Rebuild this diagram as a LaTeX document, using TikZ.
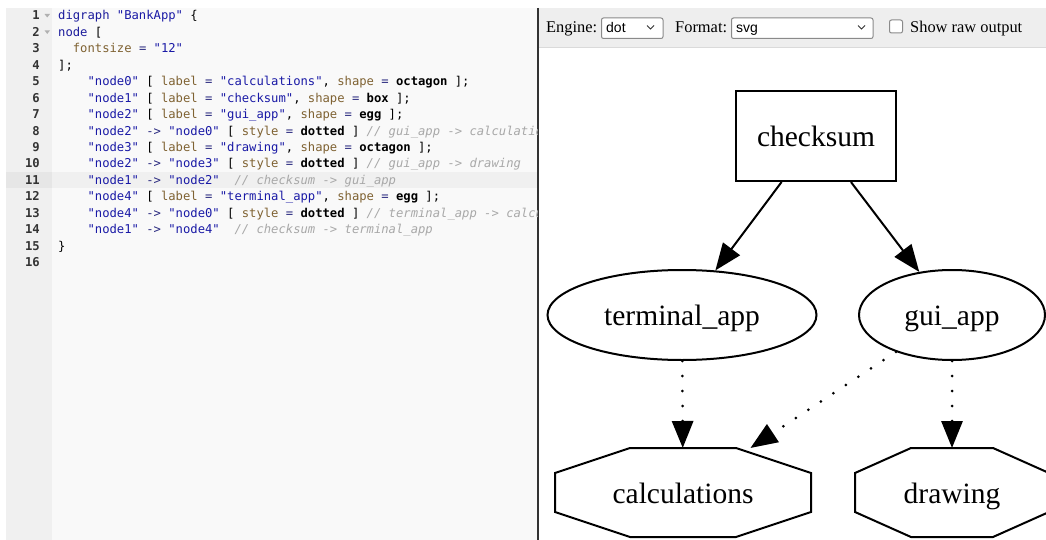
\documentclass[tikz,border=0pt]{standalone}
\usepackage{fontspec}
\setmainfont{Liberation Serif}
\newfontfamily\codefont{DejaVu Sans Mono}
\newfontfamily\uifont{Liberation Sans}
\usetikzlibrary{arrows.meta,shapes.geometric}

\definecolor{gutterbg}{HTML}{F0F0F0}
\definecolor{codebg}{HTML}{F9F9F9}
\definecolor{gutterhl}{HTML}{E6E6E6}
\definecolor{codehl}{HTML}{F0F0F0}
\definecolor{numtext}{HTML}{333333}
\definecolor{foldgray}{HTML}{B0B0B0}
\definecolor{codekw}{HTML}{1C1C9C}
\definecolor{codestr}{HTML}{1A1AA6}
\definecolor{codeattr}{HTML}{7F6232}
\definecolor{codeop}{HTML}{2A2A80}
\definecolor{codecom}{HTML}{A8A8A8}
\definecolor{toolbg}{HTML}{EEEEEE}
\definecolor{toolline}{HTML}{DADADA}
\definecolor{boxgray}{HTML}{8A8A8A}
\definecolor{splitter}{HTML}{333333}

\newcommand{\ckw}[1]{\textcolor{codekw}{#1}}
\newcommand{\cstr}[1]{\textcolor{codestr}{#1}}
\newcommand{\cattr}[1]{\textcolor{codeattr}{#1}}
\newcommand{\cop}[1]{\textcolor{codeop}{#1}}
\newcommand{\cval}[1]{\textbf{#1}}
\newcommand{\ccom}[1]{\textcolor{codecom}{\itshape #1}}
% octagon round a rectangle node: name, x cut, y cut
\newcommand{\gvoctagon}[3]{%
	\draw [style=octline] ([xshift=#2]#1.north west) -- ([xshift=-#2]#1.north east)
		-- ([yshift=-#3]#1.north east) -- ([yshift=#3]#1.south east)
		-- ([xshift=-#2]#1.south east) -- ([xshift=#2]#1.south west)
		-- ([yshift=#3]#1.south west) -- ([yshift=-#3]#1.north west) -- cycle;}

\pgfdeclarelayer{bglayer}
\pgfdeclarelayer{edgelayer}
\pgfdeclarelayer{nodelayer}
\pgfsetlayers{bglayer,edgelayer,nodelayer,main}
\tikzstyle{lineno}=[anchor=base east,inner sep=0pt,text=numtext,font=\codefont\fontsize{12.2}{14}\selectfont\bfseries]
\tikzstyle{codeline}=[anchor=base west,inner sep=0pt,text=black,font=\codefont\fontsize{12.2}{14}\selectfont]
\tikzstyle{uilabel}=[anchor=base west,inner sep=0pt,font=\fontsize{16.4}{18}\selectfont]
\tikzstyle{uivalue}=[anchor=base west,inner sep=0pt,font=\uifont\fontsize{14}{16}\selectfont]
\tikzstyle{selectbox}=[draw=boxgray,fill=white,line width=1pt,rounded corners=2pt]
\tikzstyle{chevron}=[draw=black!80,line width=0.9pt]
\tikzstyle{gvtext}=[text height=21pt,text depth=0pt,font=\fontsize{29.5}{32}\selectfont]
\tikzstyle{gvbox}=[gvtext,rectangle,draw=black,line width=2pt,minimum width=160pt,minimum height=90pt]
\tikzstyle{gvegg}=[gvtext,ellipse,draw=black,line width=2pt,minimum height=90pt]
\tikzstyle{gvoct}=[gvtext,rectangle,outer sep=1pt,minimum height=87pt]
\tikzstyle{octline}=[draw=black,line width=2pt,line join=miter]
\tikzstyle{gvedge}=[-{Triangle[length=27pt,width=21pt]},draw=black,line width=2pt]
\tikzstyle{gvdotted}=[gvedge,line width=3pt,line cap=round,dash pattern=on 0pt off 15pt]

\begin{document}
\begin{tikzpicture}[x=1pt,y=-1pt]
	\useasboundingbox (0,0) rectangle (1046,540);
	\begin{pgfonlayer}{bglayer}
		% editor panel
		\fill [gutterbg] (6,8) rectangle (52,540);
		\fill [codebg] (52,8) rectangle (538,540);
		\fill [gutterhl] (6,172) rectangle (52,188.4);
		\fill [codehl] (52,172) rectangle (538,188.4);
		\draw [splitter,line width=1.5pt] (538,8) -- (538,540);
		\fill [foldgray] (44.5,14) -- (50,14) -- (47.25,17.5) -- cycle;
		\fill [foldgray] (44.5,30.4) -- (50,30.4) -- (47.25,33.9) -- cycle;
		% toolbar
		\fill [toolbg] (539,8) rectangle (1046,47);
		\draw [toolline,line width=1pt] (539,47.5) -- (1046,47.5);
		\draw [style=selectbox] (601.5,18) rectangle (663,38.5);
		\draw [style=chevron] (647,25.5) -- (650.5,29) -- (654,25.5);
		\draw [style=selectbox] (731.5,18) rectangle (873,38.5);
		\draw [style=chevron] (858,25.5) -- (861.5,29) -- (865,25.5);
		\draw [style=selectbox] (889.5,20) rectangle (902.5,33);
	\end{pgfonlayer}
	\begin{pgfonlayer}{nodelayer}
		\node [style=lineno] (n1) at (40, 20.00) {1};
		\node [style=lineno] (n2) at (40, 36.43) {2};
		\node [style=lineno] (n3) at (40, 52.86) {3};
		\node [style=lineno] (n4) at (40, 69.29) {4};
		\node [style=lineno] (n5) at (40, 85.72) {5};
		\node [style=lineno] (n6) at (40, 102.15) {6};
		\node [style=lineno] (n7) at (40, 118.58) {7};
		\node [style=lineno] (n8) at (40, 135.01) {8};
		\node [style=lineno] (n9) at (40, 151.44) {9};
		\node [style=lineno] (n10) at (40, 167.87) {10};
		\node [style=lineno] (n11) at (40, 184.30) {11};
		\node [style=lineno] (n12) at (40, 200.73) {12};
		\node [style=lineno] (n13) at (40, 217.16) {13};
		\node [style=lineno] (n14) at (40, 233.59) {14};
		\node [style=lineno] (n15) at (40, 250.02) {15};
		\node [style=lineno] (n16) at (40, 266.45) {16};
		\begin{scope}
			\clip (52,8) rectangle (537,540);
			\node [style=codeline] (c1) at (58, 20.00) {\ckw{digraph} \cstr{"BankApp"} \{};
			\node [style=codeline] (c2) at (58, 36.43) {\ckw{node} [};
			\node [style=codeline] (c3) at (72.7, 52.86) {\cattr{fontsize} \cop{=} \cstr{"12"}};
			\node [style=codeline] (c4) at (58, 69.29) {];};
			\node [style=codeline] (c5) at (87.4, 85.72) {\cstr{"node0"} [ \cattr{label} \cop{=} \cstr{"calculations"}, \cattr{shape} \cop{=} \cval{octagon} ];};
			\node [style=codeline] (c6) at (87.4, 102.15) {\cstr{"node1"} [ \cattr{label} \cop{=} \cstr{"checksum"}, \cattr{shape} \cop{=} \cval{box} ];};
			\node [style=codeline] (c7) at (87.4, 118.58) {\cstr{"node2"} [ \cattr{label} \cop{=} \cstr{"gui\_app"}, \cattr{shape} \cop{=} \cval{egg} ];};
			\node [style=codeline] (c8) at (87.4, 135.01) {\cstr{"node2"} \cop{->} \cstr{"node0"} [ \cattr{style} \cop{=} \cval{dotted} ] \ccom{// gui\_app -> calculations}};
			\node [style=codeline] (c9) at (87.4, 151.44) {\cstr{"node3"} [ \cattr{label} \cop{=} \cstr{"drawing"}, \cattr{shape} \cop{=} \cval{octagon} ];};
			\node [style=codeline] (c10) at (87.4, 167.87) {\cstr{"node2"} \cop{->} \cstr{"node3"} [ \cattr{style} \cop{=} \cval{dotted} ] \ccom{// gui\_app -> drawing}};
			\node [style=codeline] (c11) at (87.4, 184.30) {\cstr{"node1"} \cop{->} \cstr{"node2"}\ \ \ccom{// checksum -> gui\_app}};
			\node [style=codeline] (c12) at (87.4, 200.73) {\cstr{"node4"} [ \cattr{label} \cop{=} \cstr{"terminal\_app"}, \cattr{shape} \cop{=} \cval{egg} ];};
			\node [style=codeline] (c13) at (87.4, 217.16) {\cstr{"node4"} \cop{->} \cstr{"node0"} [ \cattr{style} \cop{=} \cval{dotted} ] \ccom{// terminal\_app -> calculations}};
			\node [style=codeline] (c14) at (87.4, 233.59) {\cstr{"node1"} \cop{->} \cstr{"node4"}\ \ \ccom{// checksum -> terminal\_app}};
			\node [style=codeline] (c15) at (58, 250.02) {\}};
		\end{scope}
		\node [style=uilabel] (engine) at (546, 33) {Engine:};
		\node [style=uivalue] (enginesel) at (606, 33) {dot};
		\node [style=uilabel] (format) at (675, 33) {Format:};
		\node [style=uivalue] (formatsel) at (736, 33) {svg};
		\node [style=uilabel] (rawout) at (910, 33) {Show raw output};
		\node [style=gvbox] (checksum) at (816, 136) {checksum};
		\node [style=gvegg, minimum width=269pt] (terminal) at (682, 315) {terminal\_app};
		\node [style=gvegg, minimum width=186pt] (gui) at (952, 315) {gui\_app};
		\node [style=gvoct, minimum width=254pt] (calc) at (683, 492.5) {calculations};
		\node [style=gvoct, minimum width=192pt] (drawing) at (952, 492.5) {drawing};
		\gvoctagon{calc}{75pt}{25pt}
		\gvoctagon{drawing}{56pt}{25pt}
	\end{pgfonlayer}
	\begin{pgfonlayer}{edgelayer}
		\draw [style=gvedge] (checksum) to (terminal);
		\draw [style=gvedge] (checksum) to (gui);
		\draw [style=gvdotted] (terminal) to (calc);
		\draw [style=gvdotted] (gui) to (calc);
		\draw [style=gvdotted] (gui) to (drawing);
	\end{pgfonlayer}
\end{tikzpicture}
\end{document}
